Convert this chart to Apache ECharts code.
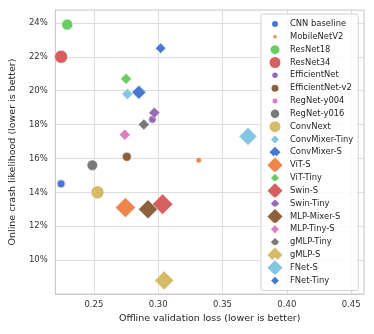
<!DOCTYPE html>
<html>
<head>
<meta charset="utf-8">
<script src="https://cdn.jsdelivr.net/npm/echarts@6/dist/echarts.min.js"></script>
<style>
  html, body { margin: 0; padding: 0; background: #fff; }
  #main { width: 374px; height: 334px; }
</style>
</head>
<body>
<div id="main"></div>
<script>
// models, in legend order
const models = ['CNN baseline', 'MobileNetV2', 'ResNet18', 'ResNet34', 'EfficientNet', 'EfficientNet-v2',
  'RegNet-y004', 'RegNet-y016', 'ConvNext', 'ConvMixer-Tiny', 'ConvMixer-S', 'ViT-S', 'ViT-Tiny',
  'Swin-S', 'Swin-Tiny', 'MLP-Mixer-S', 'MLP-Tiny-S', 'gMLP-Tiny', 'gMLP-S', 'FNet-S', 'FNet-Tiny']
// offline validation loss (x)
const offlineLoss = [0.2245, 0.3315, 0.2293, 0.2245, 0.2955, 0.2756,
  null, 0.2488, 0.2528, 0.2760, 0.2850, 0.2745, 0.2750,
  0.3034, 0.2970, 0.2921, 0.2740, 0.2888, 0.3047, 0.3698, 0.3019]
// online crash likelihood (y)
const crashRate = [0.145, 0.159, 0.239, 0.220, 0.183, 0.161,
  null, 0.156, 0.140, 0.198, 0.199, 0.131, 0.207,
  0.133, 0.187, 0.130, 0.174, 0.180, 0.088, 0.173, 0.225]
const yTicks = [0.10, 0.12, 0.14, 0.16, 0.18, 0.20, 0.22, 0.24]

// styling
const muted = ['#4878d0', '#ee854a', '#6acc64', '#d65f5f', '#956cb4', '#8c613c', '#dc7ec0', '#797979', '#d5bb67', '#82c6e2']
const shapes = ['circle', 'circle', 'circle', 'circle', 'circle', 'circle', 'circle', 'circle', 'circle',
  'diamond', 'diamond', 'diamond', 'diamond', 'diamond', 'diamond', 'diamond', 'diamond', 'diamond', 'diamond', 'diamond', 'diamond']
const markerSize = [8, 5.5, 11, 13, 7.5, 9, 7, 10.5, 13,
  11, 14, 20, 11, 20.5, 11, 19, 11, 11, 19, 18, 10.5]
const colorOf = i => muted[i % muted.length]
const font = "'DejaVu Sans', sans-serif"

// legend icon: fixed 20x18 box so every marker keeps its own size
function iconPath(shape, size) {
  let s = Math.min(size, 18) / 2
  let box = 'M0 0 M20 18 '
  if (shape === 'circle') {
    return 'path://' + box + `M${10 - s} 9 A${s} ${s} 0 1 0 ${10 + s} 9 A${s} ${s} 0 1 0 ${10 - s} 9 Z`
  }
  return 'path://' + box + `M10 ${9 - s} L${10 + s} 9 L10 ${9 + s} L${10 - s} 9 Z`
}

var myChart = echarts.init(document.getElementById('main'), null, { renderer: 'canvas' })

var option = {
  animation: false,
  textStyle: { fontFamily: font },
  grid: { left: 50, right: 10, top: 10, bottom: 40, show: true, borderColor: '#cccccc', borderWidth: 1 },
  legend: {
    orient: 'vertical',
    left: 261,
    top: 14,
    padding: [0, 5, 0, 3],
    itemWidth: 20,
    itemHeight: 18,
    itemGap: -7.17,
    selectedMode: false,
    backgroundColor: 'rgba(255,255,255,0.85)',
    borderColor: '#d0d0d0',
    borderWidth: 1,
    borderRadius: 2,
    textStyle: { fontFamily: font, fontSize: 8.4, color: '#262626', padding: 0 },
    data: models.map((name, i) => ({ name, icon: iconPath(shapes[i], markerSize[i]) }))
  },
  xAxis: {
    type: 'value',
    min: 0.22,
    max: 0.46,
    splitNumber: 5,
    name: 'Offline validation loss (lower is better)',
    nameLocation: 'middle',
    nameGap: 16,
    nameTextStyle: { fontFamily: font, fontSize: 9.5, color: '#262626' },
    axisLine: { lineStyle: { color: '#cccccc' } },
    axisTick: { show: false },
    axisLabel: {
      margin: 6, fontSize: 8.5, color: '#333', fontFamily: font,
      showMinLabel: false, showMaxLabel: false,
      formatter: v => v.toFixed(2)
    },
    splitLine: { lineStyle: { color: '#dcdcdc', width: 1 } }
  },
  yAxis: {
    type: 'value',
    min: 0.08,
    max: 0.2476,
    interval: 0.02,
    name: 'Online crash likelihood (lower is better)',
    nameLocation: 'middle',
    nameGap: 30,
    nameTextStyle: { fontFamily: font, fontSize: 9.5, color: '#262626' },
    axisLine: { show: true, lineStyle: { color: '#cccccc' } },
    axisTick: { show: false },
    axisLabel: {
      margin: 7.5, fontSize: 8.5, color: '#333', fontFamily: font,
      showMinLabel: false, showMaxLabel: false,
      formatter: v => yTicks.some(t => Math.abs(t - v) < 1e-6) ? Math.round(v * 100) + '%' : ''
    },
    splitLine: { lineStyle: { color: '#dcdcdc', width: 1 } }
  },
  series: models.map((name, i) => ({
    name,
    type: 'scatter',
    symbol: shapes[i],
    symbolSize: markerSize[i],
    data: offlineLoss[i] == null ? [] : [[offlineLoss[i], crashRate[i]]],
    itemStyle: { color: colorOf(i), opacity: 1, borderColor: '#fff', borderWidth: 0.5 },
    emphasis: { disabled: true }
  }))
}

myChart.setOption(option)
</script>
</body>
</html>
